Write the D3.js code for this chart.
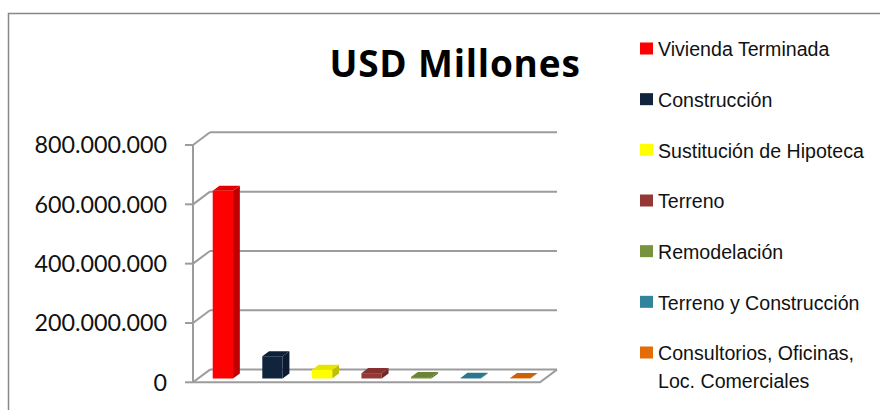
<!DOCTYPE html>
<html>
<head>
<meta charset="utf-8">
<script src="https://cdn.jsdelivr.net/npm/d3@7"></script>
<style>
  html, body { margin: 0; padding: 0; background: #fff; }
  svg { display: block; }
</style>
</head>
<body>
<svg id="chart" width="880" height="410"></svg>
<script>
// Loan amounts by destination (USD)
const categories = [
  "Vivienda Terminada",
  "Construcción",
  "Sustitución de Hipoteca",
  "Terreno",
  "Remodelación",
  "Terreno y Construcción",
  "Consultorios, Oficinas, Loc. Comerciales"
];
const values = [633000000, 75000000, 29000000, 18000000, 5000000, 2000000, 1500000];
const colors = ["#FF0000", "#10243E", "#FFFF00", "#953735", "#77933C", "#31849B", "#E36C09"];
const yTicks = [0, 200000000, 400000000, 600000000, 800000000];
const legendLines = [
  ["Vivienda Terminada"],
  ["Construcción"],
  ["Sustitución de Hipoteca"],
  ["Terreno"],
  ["Remodelación"],
  ["Terreno y Construcción"],
  ["Consultorios, Oficinas,", "Loc. Comerciales"]
];
const title = "USD Millones";

const svg = d3.select("#chart");

// outer chart frame
svg.append("rect")
  .attr("x", 8.5).attr("y", 13.5)
  .attr("width", 900).attr("height", 420)
  .attr("fill", "none").attr("stroke", "#878787").attr("stroke-width", 1.5);

// plot geometry (front plane) and depth vector of the 3D box
const x0 = 193, x1 = 540;
const depth = { dx: 17, dy: -12.7 };
const y = d3.scaleLinear().domain([0, 800000000]).range([382.3, 145]);
const x = d3.scaleBand().domain(categories).range([x0, x1]).paddingInner(0.59).paddingOuter(0.295);
const P = (px, py, t) => [px + depth.dx * t, py + depth.dy * t];
const gridColor = "#9C9C9C";

const grid = svg.append("g").attr("fill", "none").attr("stroke", gridColor).attr("stroke-width", 2);

// back wall gridlines with their diagonal links to the axis ticks
yTicks.forEach(v => {
  const yy = y(v);
  const b = P(x0, yy, 1);
  const e = P(x1, yy, 1);
  grid.append("line").attr("x1", b[0]).attr("y1", b[1]).attr("x2", e[0]).attr("y2", e[1]);
  grid.append("line").attr("x1", x0).attr("y1", yy).attr("x2", b[0]).attr("y2", b[1]);
  grid.append("line").attr("x1", x0 - 8).attr("y1", yy).attr("x2", x0).attr("y2", yy);
});

// floor: front edge and right edge
const fr = P(x1, y(0), 1);
grid.append("path").attr("d", d3.line()([[x0, y(0)], [x1, y(0)], fr]));

// vertical axis line
grid.append("line").attr("x1", x0).attr("y1", y(800000000)).attr("x2", x0).attr("y2", y(0));

// axis tick labels
const fmt = v => d3.format(",")(v).replace(/,/g, ".");
svg.append("g").selectAll("text").data(yTicks).join("text")
  .attr("x", 167).attr("y", d => y(d))
  .attr("dy", "0.36em")
  .attr("text-anchor", "end")
  .attr("font-family", "Lato, 'Open Sans', sans-serif")
  .attr("font-size", 23.3)
  .attr("fill", "#111")
  .text(fmt);

// 3D bars: front face, top face and right side
const t0 = 0.3, t1 = 0.7;
const bars = svg.append("g");
categories.forEach((c, i) => {
  const base = d3.color(colors[i]);
  const bx = x(c), bw = x.bandwidth();
  const yt = y(values[i]), yb = y(0);
  const fl = P(bx, yt, t0), frt = P(bx + bw, yt, t0);
  const flb = P(bx, yb, t0), frb = P(bx + bw, yb, t0);
  const bl = P(bx, yt, t1), brt = P(bx + bw, yt, t1), brb = P(bx + bw, yb, t1);
  const g = bars.append("g");
  g.append("path").attr("d", d3.line()([frt, brt, brb, frb]) + "Z")
    .attr("fill", base.darker(0.8).formatHex());
  g.append("path").attr("d", d3.line()([fl, bl, brt, frt]) + "Z")
    .attr("fill", base.darker(0.3).formatHex());
  g.append("path").attr("d", d3.line()([fl, frt, frb, flb]) + "Z")
    .attr("fill", base.formatHex());
});

// title
svg.append("text")
  .attr("x", 455).attr("y", 76.5)
  .attr("text-anchor", "middle")
  .attr("font-family", "'Open Sans', Lato, sans-serif")
  .attr("font-weight", "bold")
  .attr("font-size", 37)
  .attr("letter-spacing", 0.8)
  .attr("fill", "#000")
  .text(title);

// legend
const legend = svg.append("g").attr("font-family", "'Liberation Sans', Arial, sans-serif")
  .attr("font-size", 19.6).attr("fill", "#111");
const rowY = d3.scaleLinear().domain([0, 6]).range([48.5, 352.5]);
legendLines.forEach((lines, i) => {
  const cy = rowY(i);
  legend.append("rect")
    .attr("x", 640).attr("y", cy - 6).attr("width", 13).attr("height", 12)
    .attr("fill", colors[i]);
  const t = legend.append("text").attr("x", 658).attr("y", cy + 7.8);
  lines.forEach((ln, k) => {
    t.append("tspan").attr("x", 658).attr("dy", k === 0 ? 0 : 27.7).text(ln);
  });
});
</script>
</body>
</html>
